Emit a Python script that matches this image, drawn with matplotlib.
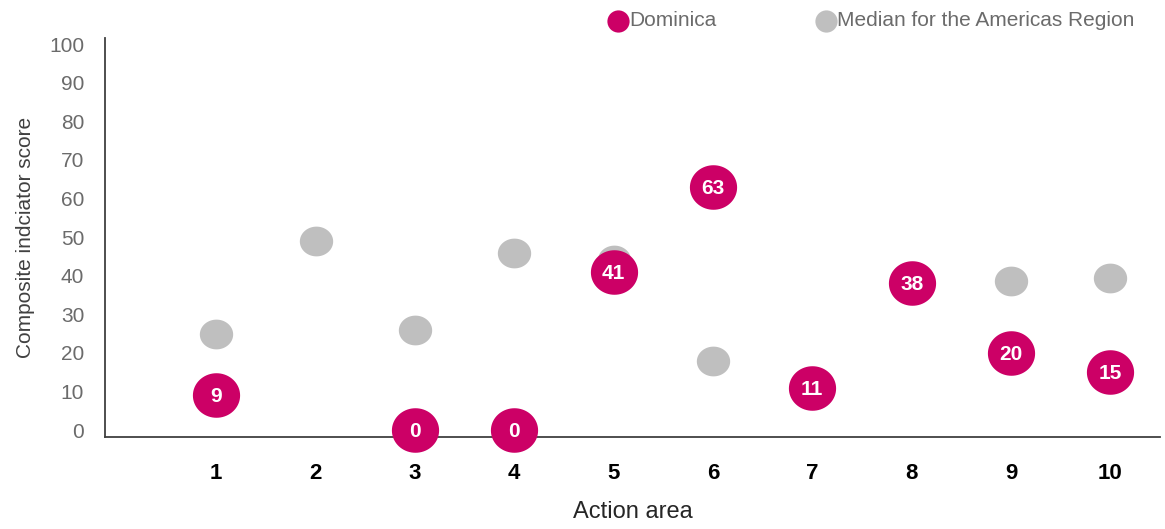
import matplotlib
matplotlib.use("Agg")
import matplotlib.pyplot as plt
import numpy as np
from matplotlib.path import Path

plt.rcParams['font.family'] = ['Liberation Sans', 'DejaVu Sans']

areas = ['1', '2', '3', '4', '5', '6', '7', '8', '9', '10']
dominica = [9, None, 0, 0, 41, 63, 11, 38, 20, 15]
median_americas = [25, 49, 26, 46, 44, 18, 11, 38, 38.5, 39.5]

PINK = '#CC0066'
GREY = '#BFBFBF'


def ellipse(ratio):
    t = np.linspace(0, 2 * np.pi, 73)
    verts = np.column_stack([ratio * np.cos(t), np.sin(t)])
    return Path(verts, closed=True)


fig = plt.figure(figsize=(11.65, 5.29), dpi=100)
ax = fig.add_axes([0.0901, 0.174, 0.9056, 0.754])

x = np.arange(1, len(areas) + 1)

ax.scatter(x, median_americas, s=24 ** 2, marker=ellipse(1.12), color=GREY,
           linewidths=0, zorder=2, clip_on=False)

dx = [xi for xi, v in zip(x, dominica) if v is not None]
dv = [v for v in dominica if v is not None]
ax.scatter(dx, dv, s=34 ** 2, marker=ellipse(1.06), color=PINK,
           linewidths=0, zorder=3, clip_on=False)
for xi, v in zip(dx, dv):
    ax.text(xi, v - 0.4, str(v), ha='center', va='center', color='white',
            fontsize=15, fontweight='bold', zorder=4)

ax.set_xlim(-0.12, 10.5)
ax.set_ylim(-1.8, 101.6)
ax.set_yticks(range(0, 101, 10))
ax.set_xticks(x)
ax.set_xticklabels(areas, fontweight='bold', fontsize=16)
ax.tick_params(axis='x', length=0, pad=19, colors='black')
ax.tick_params(axis='y', length=0, pad=15, labelsize=15, colors='#6b6b6b')

for side in ['top', 'right']:
    ax.spines[side].set_visible(False)
for side in ['left', 'bottom']:
    ax.spines[side].set_color('#404040')
    ax.spines[side].set_linewidth(1.3)

ax.set_ylabel('Composite indciator score', fontsize=15, color='#404040', labelpad=10)
ax.set_xlabel('Action area', fontsize=17, color='#262626', labelpad=12)

# legend at top
leg_ax = fig.add_axes([0, 0.9, 1, 0.1])
leg_ax.set_xlim(0, 1165)
leg_ax.set_ylim(0, 52.9)
leg_ax.axis('off')
leg_ax.scatter([618], [32], s=16 ** 2, color=PINK, linewidths=0)
leg_ax.text(629, 32, 'Dominica', va='center', ha='left', fontsize=15, color='#6b6b6b')
leg_ax.scatter([826], [32], s=16 ** 2, color=GREY, linewidths=0)
leg_ax.text(837, 32, 'Median for the Americas Region', va='center', ha='left',
            fontsize=15, color='#6b6b6b')

fig.savefig('out.png', dpi=100)
